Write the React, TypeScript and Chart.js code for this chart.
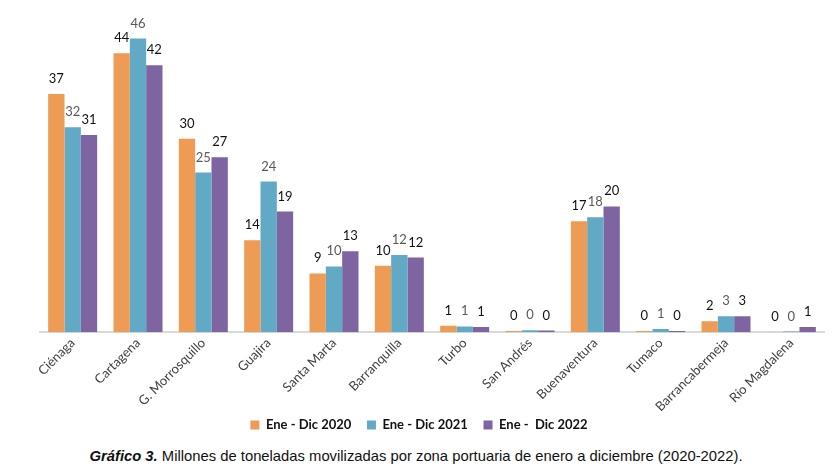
import { Chart, registerables } from 'chart.js';
import { useEffect, useRef } from 'react';

Chart.register(...registerables);

const zonas = [
    'Ciénaga', 'Cartagena', 'G. Morrosquillo', 'Guajira', 'Santa Marta', 'Barranquilla',
    'Turbo', 'San Andrés', 'Buenaventura', 'Tumaco', 'Barrancabermeja', 'Río Magdalena',
];
const ene2020 = [37.3, 43.7, 30.3, 14.4, 9.2, 10.4, 1.0, 0.2, 17.4, 0.2, 1.7, 0.05];
const ene2021 = [32.1, 46.0, 25.0, 23.6, 10.3, 12.1, 0.9, 0.3, 18.0, 0.5, 2.5, 0.1];
const ene2022 = [30.9, 41.8, 27.4, 18.9, 12.7, 11.7, 0.8, 0.25, 19.7, 0.2, 2.5, 0.8];

const labelColors = ['#111111', '#595959', '#111111'];
// extra space after each legend entry (en spaces), so the row is spread and a bit left of centre
const legendGaps = ['\u2002\u2002\u2009', '\u2002\u2002\u2009', '\u2002\u2002\u2002\u2002'];

const valueLabels = {
    id: 'valueLabels',
    afterDatasetsDraw(chart: Chart) {
        const ctx = chart.ctx;
        ctx.save();
        ctx.font = '13px Lato, "Open Sans", sans-serif';
        ctx.textAlign = 'center';
        ctx.textBaseline = 'alphabetic';
        chart.data.datasets.forEach((ds, i) => {
            ctx.fillStyle = labelColors[i];
            chart.getDatasetMeta(i).data.forEach((bar: any, j) => {
                const v = ds.data[j] as number;
                ctx.fillText(String(Math.round(v)), bar.x, bar.y - 11);
            });
        });
        ctx.restore();
    },
};

export default function App() {
    const canvasRef = useRef<HTMLCanvasElement>(null);

    useEffect(() => {
        const canvas = canvasRef.current;
        if (!canvas) return;
        const chart = new Chart(canvas, {
            type: 'bar',
            data: {
                labels: zonas,
                datasets: [
                    { label: 'Ene - Dic 2020', data: ene2020, backgroundColor: '#EE9B55' },
                    { label: 'Ene - Dic 2021', data: ene2021, backgroundColor: '#61A9C4' },
                    { label: 'Ene -  Dic 2022', data: ene2022, backgroundColor: '#7E64A1' },
                ],
            },
            options: {
                responsive: false,
                animation: false,
                layout: { padding: { left: 40, right: 8, top: 13, bottom: -1.5 } },
                datasets: { bar: { barPercentage: 1, categoryPercentage: 0.75 } },
                scales: {
                    x: {
                        grid: { display: false, drawTicks: false },
                        border: { display: true, color: '#d9d9d9', width: 2 },
                        ticks: {
                            minRotation: 45,
                            maxRotation: 45,
                            padding: 3,
                            color: '#404040',
                            font: { family: 'Lato, "Open Sans", sans-serif', size: 13 },
                        },
                    },
                    y: { display: false, min: 0, max: 50 },
                },
                plugins: {
                    legend: {
                        position: 'bottom',
                        labels: {
                            boxWidth: 9,
                            boxHeight: 9,
                            padding: 1,
                            color: '#111111',
                            font: { family: 'Lato, "Open Sans", sans-serif', size: 13, weight: 'bold' },
                            generateLabels: (c: Chart) =>
                                Chart.defaults.plugins.legend.labels.generateLabels(c).map((item, i) => ({
                                    ...item,
                                    text: item.text + legendGaps[i],
                                })),
                        },
                    },
                    tooltip: { enabled: false },
                },
            },
            plugins: [valueLabels],
        });
        return () => {
            chart.destroy();
        };
    }, []);

    return (
        <div style={{ position: 'absolute', left: 0, top: 0, width: 832, height: 472, background: '#fff' }}>
            <canvas ref={canvasRef} width={832} height={440} />
            <div
                style={{
                    position: 'absolute', left: 0, top: 448, width: 832, textAlign: 'center',
                    fontFamily: '"Liberation Sans", Arial, sans-serif', fontSize: 14.8, color: '#111',
                }}
            >
                <b><i>Gráfico 3.</i></b> Millones de toneladas movilizadas por zona portuaria de enero a diciembre (2020-2022).
            </div>
        </div>
    );
}
